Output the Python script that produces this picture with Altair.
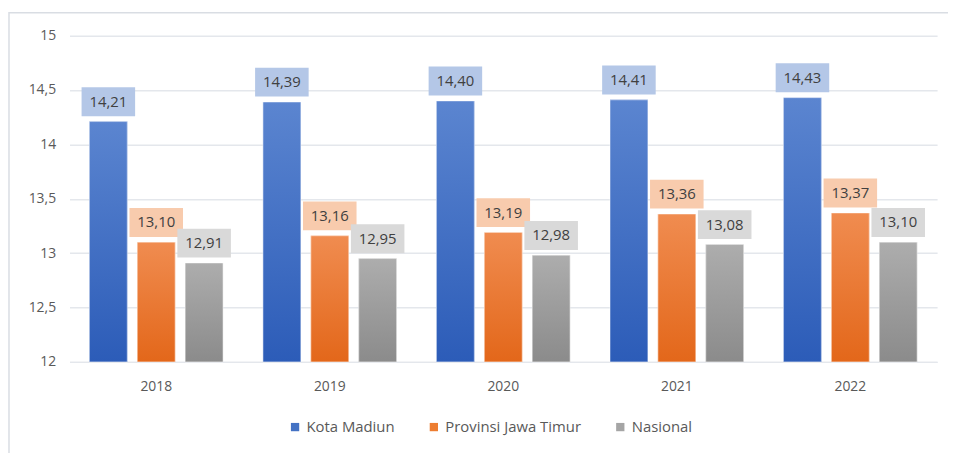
import altair as alt
import pandas as pd

years = ["2018", "2019", "2020", "2021", "2022"]
series = ["Kota Madiun", "Provinsi Jawa Timur", "Nasional"]
kota_madiun = [14.21, 14.39, 14.40, 14.41, 14.43]
jawa_timur = [13.10, 13.16, 13.19, 13.36, 13.37]
nasional = [12.91, 12.95, 12.98, 13.08, 13.10]

solid = ["#4472C4", "#ED7D31", "#A5A5A5"]
label_fill = ["#B4C7E7", "#F8CBAD", "#D9D9D9"]
grads = [
    ["#5B85D0", "#2C5CB8"],
    ["#F08C50", "#E3671A"],
    ["#ADADAD", "#8B8B8B"],
]
FONT = "Open Sans"

rows = []
for s, vals in zip(series, [kota_madiun, jawa_timur, nasional]):
    for y, v in zip(years, vals):
        rows.append({"year": y, "series": s, "value": v,
                     "label": f"{v:.2f}".replace(".", ",")})
df = pd.DataFrame(rows)

x_enc = alt.X("year:N", title=None,
              scale=alt.Scale(paddingInner=0.23, paddingOuter=0.115),
              axis=alt.Axis(labelAngle=0, labelFontSize=14, labelColor="#595959",
                            labelFont=FONT, domain=True, domainColor="#E4E7EC",
                            domainWidth=1.5, ticks=False, labelPadding=18))
xo_enc = alt.XOffset("series:N", sort=series,
                     scale=alt.Scale(paddingInner=0.21, paddingOuter=0))
y_scale = alt.Scale(domain=[12, 15], nice=False, zero=False)
y_enc = alt.Y("value:Q", title=None, scale=y_scale,
              axis=alt.Axis(values=[12, 12.5, 13, 13.5, 14, 14.5, 15],
                            labelExpr="replace(format(datum.value, '.1~f'), '.', ',')",
                            labelFontSize=14, labelColor="#595959", labelFont=FONT,
                            domain=False, ticks=False, labelPadding=14,
                            gridColor="#E4E7EC", gridWidth=1.5))

base = alt.Chart(df)

# Outer frame decoration
frame = alt.Chart(pd.DataFrame({"a": [0]})).mark_rect(
    fillOpacity=0, stroke="#D9DDE3", strokeWidth=1.5, clip=False
).encode(x=alt.value(-61), x2=alt.value(1000), y=alt.value(-23), y2=alt.value(500))

legend_bars = base.mark_bar(clip=True).encode(
    x=x_enc, xOffset=xo_enc, y=y_enc, y2=alt.datum(12),
    color=alt.Color("series:N", sort=series,
                    scale=alt.Scale(domain=series, range=solid),
                    legend=alt.Legend(title=None, orient="none", direction="horizontal",
                                      legendX=220, legendY=387,
                                      symbolType="square", symbolSize=70,
                                      labelFontSize=15, labelColor="#595959",
                                      labelFont=FONT, columnPadding=32,
                                      symbolStrokeWidth=0)),
)

layers = [frame, legend_bars]
for s, g, lf in zip(series, grads, label_fill):
    grad = {"gradient": "linear", "x1": 0, "y1": 0, "x2": 0, "y2": 1,
            "stops": [{"offset": 0, "color": g[0]}, {"offset": 1, "color": g[1]}]}
    sub = base.transform_filter(alt.datum.series == s)
    layers.append(sub.mark_bar(color=grad, stroke="#FFFFFF", strokeOpacity=0.5,
                               strokeWidth=1).encode(
        x="year:N", xOffset=xo_enc, y=alt.Y("value:Q", scale=y_scale), y2=alt.datum(12)))
    layers.append(sub.mark_point(
        shape="M-1,-0.54L1,-0.54L1,0.54L-1,0.54Z", size=2916, filled=True,
        fill=lf, opacity=1, strokeWidth=0, yOffset=-20).encode(
        x="year:N", xOffset=xo_enc, y=alt.Y("value:Q", scale=y_scale)))
    layers.append(sub.mark_text(fontSize=15, color="#404040", font=FONT,
                                baseline="middle", yOffset=-20).encode(
        x="year:N", xOffset=xo_enc, y=alt.Y("value:Q", scale=y_scale), text="label:N"))

chart = alt.layer(*layers).properties(
    width=875, height=329,
    autosize=alt.AutoSizeParams(type="none"),
    padding={"left": 62, "top": 26, "right": 11, "bottom": 90},
    background="white",
).configure_view(stroke=None)

chart.save("out.html", embed_options={"renderer": "svg", "actions": False})
